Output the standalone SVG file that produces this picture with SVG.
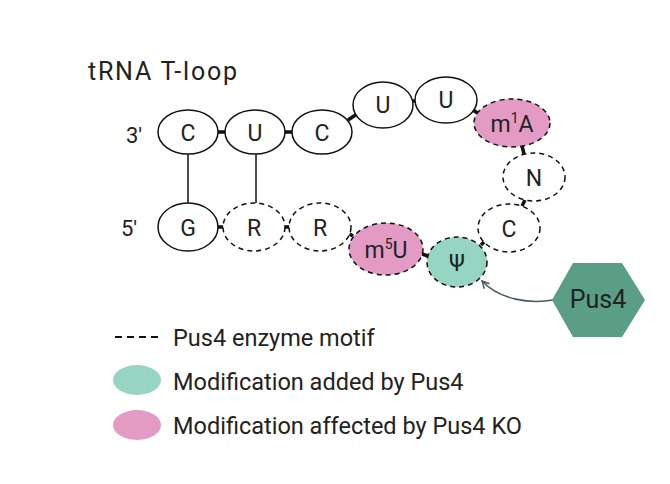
<svg xmlns="http://www.w3.org/2000/svg" width="670" height="484" viewBox="0 0 670 484">
<defs>
<style>
text{font-family:Roboto,"Liberation Sans",sans-serif;fill:#222;}
.nt{font-size:23px;text-anchor:middle;}
.lg{font-size:23.5px;}
.s{fill:#fff;stroke:#111;stroke-width:1.5;}
.d{fill:#fff;stroke:#111;stroke-width:1.5;stroke-dasharray:5 4;}
.pk{fill:#e39bc4;}
.tl{fill:#96d5c1;}
.lnk{stroke:#111;stroke-width:3.5;fill:none;}
.pair{stroke:#111;stroke-width:1.5;}
</style>
<marker id="ah" viewBox="0 0 10 10" refX="9" refY="5" markerWidth="9" markerHeight="9" orient="auto" markerUnits="userSpaceOnUse">
<path d="M1,1 L9,5 L1,9" fill="none" stroke="#4a5868" stroke-width="1.6"/>
</marker>
</defs>
<rect width="670" height="484" fill="#fff"/>
<text x="88" y="80" style="font-size:25px" textLength="149" lengthAdjust="spacing">tRNA T-loop</text>
<text x="126" y="143" style="font-size:22px">3′</text>
<text x="121" y="236" style="font-size:22px">5′</text>

<g id="connectors">
<line class="pair" x1="188" y1="154" x2="188" y2="203"/>
<line class="pair" x1="256" y1="154" x2="256" y2="203"/>
<line class="lnk" x1="217" y1="132" x2="226" y2="132"/>
<line class="lnk" x1="284" y1="132" x2="293" y2="132"/>
<line class="lnk" x1="348" y1="120" x2="357" y2="114"/>
<line class="lnk" x1="412" y1="101" x2="416" y2="101"/>
<line class="lnk" x1="473" y1="110" x2="479" y2="114"/>
<line class="lnk" x1="522" y1="146" x2="524" y2="154"/>
<line class="lnk" x1="525" y1="200" x2="522" y2="206"/>
<line class="lnk" x1="486" y1="240" x2="481" y2="245"/>
<line class="lnk" x1="422" y1="254" x2="428" y2="256"/>
<line class="lnk" x1="348" y1="233" x2="353" y2="236"/>
<line class="lnk" x1="285" y1="227" x2="290" y2="227"/>
<line class="lnk" x1="217" y1="227" x2="224" y2="227"/>
<path d="M553,300 C530,304 500,300 482,281" fill="none" stroke="#4a5868" stroke-width="1.6" marker-end="url(#ah)"/>
</g>

<g id="n-C1"><ellipse class="s" cx="188" cy="132" rx="30" ry="22"/><text class="nt" x="188" y="141">C</text></g>
<g id="n-U1"><ellipse class="s" cx="255" cy="132" rx="30" ry="22"/><text class="nt" x="255" y="141">U</text></g>
<g id="n-C2"><ellipse class="s" cx="322" cy="132" rx="30" ry="22"/><text class="nt" x="322" y="141">C</text></g>
<g id="n-U2"><ellipse class="s" cx="383" cy="105" rx="30" ry="23"/><text class="nt" x="383" y="113">U</text></g>
<g id="n-U3"><ellipse class="s" cx="446" cy="100" rx="31" ry="23"/><text class="nt" x="446" y="108">U</text></g>
<g id="n-m1A"><ellipse class="d pk" cx="512" cy="123" rx="38" ry="24"/><text class="nt" x="512" y="132">m<tspan dy="-9" style="font-size:14px">1</tspan><tspan dy="9">A</tspan></text></g>
<g id="n-N"><ellipse class="d" cx="534" cy="177" rx="31" ry="24"/><text class="nt" x="534" y="186">N</text></g>
<g id="n-C3"><ellipse class="d" cx="509" cy="228" rx="31" ry="24"/><text class="nt" x="509" y="237">C</text></g>
<g id="n-psi"><ellipse class="d tl" cx="457" cy="262" rx="30" ry="25"/><text class="nt" x="457" y="271">Ψ</text></g>
<g id="n-m5U"><ellipse class="d pk" cx="386" cy="249" rx="37" ry="26"/><text class="nt" x="386" y="258">m<tspan dy="-9" style="font-size:14px">5</tspan><tspan dy="9">U</tspan></text></g>
<g id="n-R2"><ellipse class="d" cx="320" cy="227" rx="31" ry="24"/><text class="nt" x="320" y="236">R</text></g>
<g id="n-R1"><ellipse class="d" cx="254" cy="227" rx="31" ry="24"/><text class="nt" x="254" y="236">R</text></g>
<g id="n-G"><ellipse class="s" cx="188" cy="227" rx="30" ry="24"/><text class="nt" x="188" y="236">G</text></g>

<g id="n-Pus4"><polygon points="573,263 622,263 645,300 622,337 573,337 552,300" fill="#5a9e86"/><text class="nt" x="598" y="308" style="font-size:25px">Pus4</text></g>

<g id="legend">
<line x1="115" y1="337" x2="160" y2="337" stroke="#111" stroke-width="1.8" stroke-dasharray="7 5"/>
<text class="lg" x="173" y="346">Pus4 enzyme motif</text>
<ellipse class="tl" cx="137" cy="380" rx="24" ry="15"/>
<text class="lg" x="173" y="390">Modification added by Pus4</text>
<ellipse class="pk" cx="137" cy="425" rx="24" ry="15"/>
<text class="lg" x="173" y="434">Modification affected by Pus4 KO</text>
</g>
</svg>
